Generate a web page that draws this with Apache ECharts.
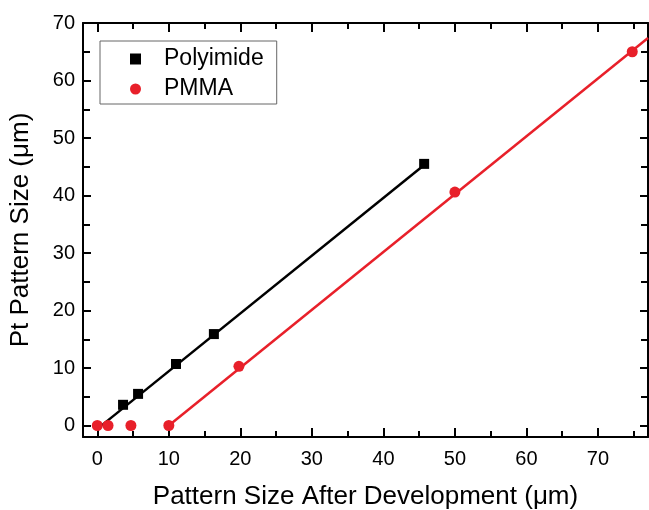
<!DOCTYPE html>
<html>
<head>
<meta charset="utf-8">
<script src="https://cdn.jsdelivr.net/npm/echarts@6/dist/echarts.min.js"></script>
<style>
  html, body { margin: 0; padding: 0; background: #fff; }
  #chart { width: 649px; height: 510px; }
</style>
</head>
<body>
<div id="chart"></div>
<script>
// measured points
const polyimideX = [3.6, 5.7, 11.0, 16.3, 45.7]
const polyimideY = [3.6, 5.5, 10.7, 15.9, 45.5]
const pmmaX = [0, 1.5, 4.7, 10.0, 19.8, 50.0, 74.8]
const pmmaY = [0, 0, 0, 0, 10.3, 40.6, 65.0]

// linear fits (end points)
const polyimideFitX = [0.4, 45.7]
const polyimideFitY = [-0.2, 45.3]
const pmmaFitX = [10.0, 77]
const pmmaFitY = [0, 67.4]

const xTicks = [0, 10, 20, 30, 40, 50, 60, 70]
const xMinorTicks = [5, 15, 25, 35, 45, 55, 65, 75]
const yTicks = [0, 10, 20, 30, 40, 50, 60, 70]
const yMinorTicks = [5, 15, 25, 35, 45, 55, 65]

const X_MIN = -2, X_MAX = 77
const Y_MIN = -2, Y_MAX = 70

const pairs = (xs, ys) => xs.map((x, i) => [x, ys[i]])

const FONT = 'Liberation Sans, Arial, sans-serif'
const BLACK = '#000'
const RED = '#e8202a'

const chart = echarts.init(document.getElementById('chart'))

// one axis = one set of inward ticks; frame drawn by the main ones
const tickAxis = (min, max, position, values, len, showLine) => ({
  type: 'value',
  min, max, position,
  axisLine: { show: showLine, onZero: false, lineStyle: { color: BLACK, width: 2 } },
  axisTick: { show: true, inside: true, length: len, customValues: values, lineStyle: { color: BLACK, width: 2 } },
  axisLabel: { show: false },
  splitLine: { show: false }
})

const xMain = {
  ...tickAxis(X_MIN, X_MAX, 'bottom', xTicks, 9, true),
  name: 'Pattern Size After Development (μm)',
  nameLocation: 'middle',
  nameGap: 47,
  nameTextStyle: { fontFamily: FONT, fontSize: 26, color: BLACK },
  axisLabel: { show: true, customValues: xTicks, fontFamily: FONT, fontSize: 20, color: BLACK, margin: 12 }
}
const yMain = {
  ...tickAxis(Y_MIN, Y_MAX, 'left', yTicks, 8, true),
  name: 'Pt Pattern Size (μm)',
  nameLocation: 'middle',
  nameGap: 49,
  nameTextStyle: { fontFamily: FONT, fontSize: 26, color: BLACK },
  axisLabel: { show: true, customValues: yTicks, fontFamily: FONT, fontSize: 20, color: BLACK, margin: 8 }
}

chart.setOption({
  animation: false,
  grid: { left: 83, right: 1, top: 23, bottom: 73, containLabel: false, outerBoundsMode: 'none' },
  xAxis: [
    xMain,
    tickAxis(X_MIN, X_MAX, 'bottom', xMinorTicks, 6, false),
    tickAxis(X_MIN, X_MAX, 'top', xTicks, 9, true),
    tickAxis(X_MIN, X_MAX, 'top', xMinorTicks, 6, false)
  ],
  yAxis: [
    yMain,
    tickAxis(Y_MIN, Y_MAX, 'left', yMinorTicks, 7, false),
    tickAxis(Y_MIN, Y_MAX, 'right', yTicks, 8, true),
    tickAxis(Y_MIN, Y_MAX, 'right', yMinorTicks, 7, false)
  ],
  legend: {
    left: 100, top: 41,
    orient: 'vertical',
    data: ['Polyimide', 'PMMA'],
    borderColor: '#666', borderWidth: 1,
    padding: [6, 13, 3, 30],
    itemWidth: 11, itemHeight: 11,
    itemGap: 6,
    textStyle: { fontFamily: FONT, fontSize: 23, color: BLACK, lineHeight: 24, padding: [0, 0, 0, 18] }
  },
  series: [
    {
      name: 'Polyimide fit',
      type: 'line',
      data: pairs(polyimideFitX, polyimideFitY),
      showSymbol: false,
      lineStyle: { color: BLACK, width: 2.5 },
      silent: true
    },
    {
      name: 'PMMA fit',
      type: 'line',
      data: pairs(pmmaFitX, pmmaFitY),
      showSymbol: false,
      lineStyle: { color: RED, width: 2.5 },
      silent: true
    },
    {
      name: 'Polyimide',
      type: 'scatter',
      data: pairs(polyimideX, polyimideY),
      symbol: 'rect',
      symbolSize: 10,
      itemStyle: { color: BLACK, opacity: 1 },
      z: 5
    },
    {
      name: 'PMMA',
      type: 'scatter',
      data: pairs(pmmaX, pmmaY),
      symbol: 'circle',
      symbolSize: 11,
      itemStyle: { color: RED, opacity: 1 },
      z: 5
    }
  ]
})
</script>
</body>
</html>
